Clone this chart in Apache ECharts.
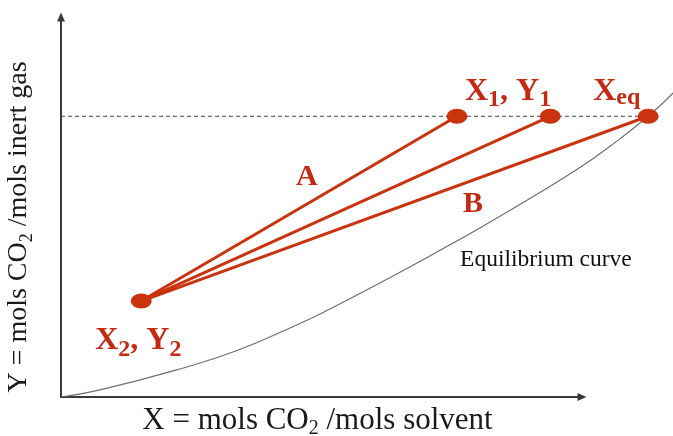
<!DOCTYPE html>
<html>
<head>
<meta charset="utf-8">
<title>Operating lines and equilibrium curve</title>
<script src="https://cdn.jsdelivr.net/npm/echarts@6/dist/echarts.min.js"></script>
<style>
  html, body { margin: 0; padding: 0; background: #ffffff; }
  #chart { width: 673px; height: 436px; }
</style>
</head>
<body>
<div id="chart"></div>
<script>
// Bottom of the column: lean gas leaving / solvent entering (X2, Y2)
const startPoint = [15.4, 20.2];
// Feed-gas level Y1 shared by every operating line
const feedY = 59.1;
// Liquid loadings reached at the top: line A (X1), an intermediate line, line B (Xeq)
const topX = [76.0, 93.9, 112.7];
const topLabels = ['{b|X}{s|1}{b|, Y}{s|1}', '', '{b|X}{e|eq}'];
const startLabel = '{b|X}{s|2}{b|, Y}{s|2}';
const lineNames = ['A', '', 'B'];

// Equilibrium curve Y*(X)
const eqX = [0, 7.5, 22.8, 33.8, 44.5, 50.3, 61.2, 70.8, 80.4, 90.0, 99.6, 105.4, 112.7, 117.5];
const eqY = [0, 1.5, 5.9, 9.8, 14.8, 17.8, 24.0, 29.7, 35.6, 41.8, 48.3, 52.8, 59.1, 64.0];

const xTitle = '{t|X = mols CO}{s|2}{t| /mols solvent}';
const yTitle = '{t|Y = mols CO}{s|2}{t| /mols inert gas}';

const RED = '#C9340F';
const LABEL_RED = '#C42A12';
const SERIF = '"Liberation Serif", "Times New Roman", serif';

// Plot frame: the drawn axes stop short of the right edge, while the
// curve and the Xeq point run past the arrow head, so the marks live in
// a wider grid that shares the same scale.
const FRAME = { left: 61, right: 91, top: 17, bottom: 39 };
const CHART_W = 673;
const frameW = CHART_W - FRAME.left - FRAME.right;
const plotW = CHART_W - FRAME.left;
const X_MAX = 100;
const Y_MAX = 80;
const PLOT_X_MAX = X_MAX * plotW / frameW;

const labelRich = {
  b: { fontFamily: SERIF, fontWeight: 'bold', fontSize: 32, color: LABEL_RED, lineHeight: 32 },
  s: { fontFamily: SERIF, fontWeight: 'bold', fontSize: 24, color: LABEL_RED, padding: [18, 0, 0, 0] },
  e: { fontFamily: SERIF, fontWeight: 'bold', fontSize: 24, color: LABEL_RED, padding: [14, 0, 0, 0] }
};

const titleRich = (size) => ({
  t: { fontFamily: SERIF, fontSize: size, color: '#1a1a1a' },
  s: { fontFamily: SERIF, fontSize: Math.round(size * 0.65), color: '#1a1a1a', padding: [16, 0, 0, 0] }
});

const axisLineStyle = { color: '#3a3a3a', width: 2 };
const hiddenAxis = {
  axisLine: { show: false }, axisTick: { show: false },
  axisLabel: { show: false }, splitLine: { show: false }
};

// Operating lines from (X2, Y2) up to each top point
const operatingSeries = topX.map((x, i) => ({
  type: 'line',
  name: lineNames[i] || 'operating',
  xAxisIndex: 1, yAxisIndex: 1,
  data: [startPoint, [x, feedY]],
  showSymbol: false,
  z: 4,
  lineStyle: { color: RED, width: 3 },
  silent: true
}));

// End-point markers with their labels
const labelOffsets = [[8, -25], null, [-55, -25]];
const markerData = [{
  value: startPoint,
  label: { show: true, formatter: startLabel, offset: [-46, 40] }
}].concat(topX.map((x, i) => ({
  value: [x, feedY],
  label: topLabels[i]
    ? { show: true, formatter: topLabels[i], offset: labelOffsets[i] }
    : { show: false }
})));

const option = {
  animation: false,
  backgroundColor: '#ffffff',
  grid: [
    Object.assign({ outerBoundsMode: 'none', containLabel: false }, FRAME),
    { left: FRAME.left, right: 0, top: FRAME.top, bottom: FRAME.bottom, outerBoundsMode: 'none', containLabel: false }
  ],
  xAxis: [
    {
      gridIndex: 0, type: 'value', min: 0, max: X_MAX,
      name: xTitle, nameLocation: 'middle', nameGap: 6,
      nameTextStyle: { rich: titleRich(31), padding: [0, 8, 0, 0] },
      axisLine: { show: true, onZero: false, lineStyle: axisLineStyle, symbol: ['none', 'triangle'], symbolSize: [8, 9] },
      axisTick: { show: false }, axisLabel: { show: false }, splitLine: { show: false }
    },
    Object.assign({ gridIndex: 1, type: 'value', min: 0, max: PLOT_X_MAX }, hiddenAxis)
  ],
  yAxis: [
    {
      gridIndex: 0, type: 'value', min: 0, max: Y_MAX,
      name: yTitle, nameLocation: 'middle', nameGap: 25,
      nameTextStyle: { rich: titleRich(28), padding: [0, 40, 0, 0] },
      axisLine: { show: true, onZero: false, lineStyle: axisLineStyle, symbol: ['none', 'triangle'], symbolSize: [8, 9] },
      axisTick: { show: false }, axisLabel: { show: false }, splitLine: { show: false }
    },
    Object.assign({ gridIndex: 1, type: 'value', min: 0, max: Y_MAX }, hiddenAxis)
  ],
  series: [
    {
      type: 'line',
      name: 'Equilibrium curve',
      xAxisIndex: 1, yAxisIndex: 1,
      data: eqX.map((x, i) => [x, eqY[i]]),
      smooth: 0.5,
      showSymbol: false,
      z: 2,
      lineStyle: { color: '#6e6e6e', width: 1.2 },
      silent: true
    },
    {
      type: 'line',
      name: 'feed level',
      xAxisIndex: 1, yAxisIndex: 1,
      data: [[0, feedY], [topX[topX.length - 1], feedY]],
      showSymbol: false,
      z: 3,
      lineStyle: { color: '#444444', width: 1, type: [4, 3] },
      silent: true
    }
  ].concat(operatingSeries).concat([
    {
      type: 'scatter',
      name: 'end points',
      xAxisIndex: 1, yAxisIndex: 1,
      data: markerData,
      symbol: 'circle',
      symbolSize: [21, 15],
      clip: false,
      z: 6,
      itemStyle: { color: RED, opacity: 1 },
      label: { position: 'inside', align: 'left', verticalAlign: 'middle', rich: labelRich },
      silent: true
    },
    {
      type: 'scatter',
      name: 'annotations',
      xAxisIndex: 1, yAxisIndex: 1,
      symbolSize: 0,
      clip: false,
      z: 7,
      silent: true,
      itemStyle: { opacity: 1 },
      label: { show: true, position: 'inside', formatter: '{b}' },
      data: [
        { name: lineNames[0], value: [47.2, 46.3],
          label: { fontFamily: SERIF, fontWeight: 'bold', fontSize: 30, color: LABEL_RED } },
        { name: lineNames[2], value: [79.1, 40.6],
          label: { fontFamily: SERIF, fontWeight: 'bold', fontSize: 30, color: LABEL_RED } },
        { name: 'Equilibrium curve', value: [76.6, 28.8],
          label: { fontFamily: SERIF, fontSize: 23.5, color: '#111111', align: 'left' } }
      ]
    }
  ])
};

const chart = echarts.init(document.getElementById('chart'), null, { renderer: 'canvas' });
chart.setOption(option);
</script>
</body>
</html>
